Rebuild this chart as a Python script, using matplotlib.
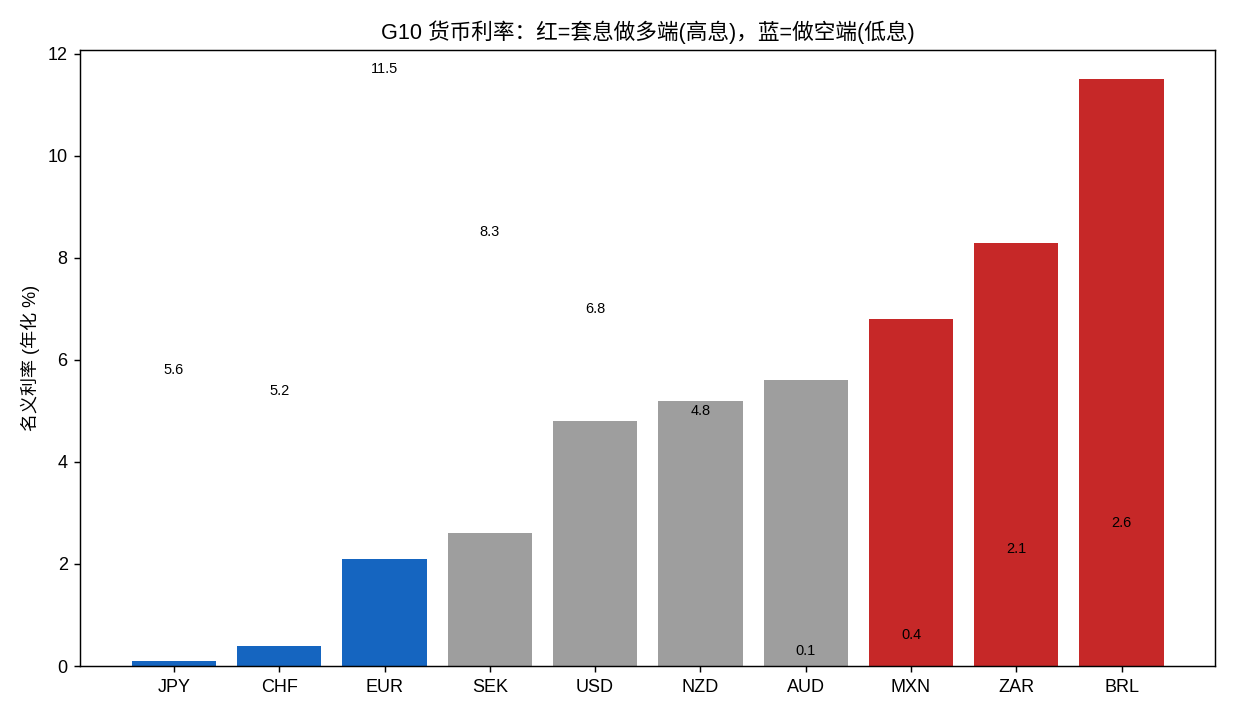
import matplotlib
matplotlib.use('Agg')
import matplotlib.pyplot as plt
import numpy as np

plt.rcParams['font.family'] = ['Liberation Sans', 'Noto Sans CJK SC', 'DejaVu Sans']

# original (unsorted) data
currencies = ['AUD', 'NZD', 'BRL', 'ZAR', 'MXN', 'USD', 'JPY', 'CHF', 'EUR', 'SEK']
rates = [5.6, 5.2, 11.5, 8.3, 6.8, 4.8, 0.1, 0.4, 2.1, 2.6]
long_side = ['BRL', 'ZAR', 'MXN']
short_side = ['JPY', 'CHF', 'EUR']

# bars are drawn sorted by rate
order = np.argsort(rates)
sorted_ccy = [currencies[i] for i in order]
sorted_rates = [rates[i] for i in order]

colors = []
for c in sorted_ccy:
    if c in long_side:
        colors.append('#C62828')
    elif c in short_side:
        colors.append('#1565C0')
    else:
        colors.append('#9E9E9E')

fig, ax = plt.subplots(figsize=(9.5, 5.5), dpi=130)
x = np.arange(len(sorted_ccy))
ax.bar(x, sorted_rates, color=colors, width=0.8)

# value labels (taken from the unsorted list, as in the original)
for i, v in enumerate(rates):
    ax.text(i, v + 0.2, f'{v}', ha='center', va='center', fontsize=8)

ax.set_xticks(x)
ax.set_xticklabels(sorted_ccy)
ax.set_ylabel('名义利率 (年化 %)')
ax.set_title('G10 货币利率：红=套息做多端(高息)，蓝=做空端(低息)', fontsize=12)

fig.subplots_adjust(left=0.065, right=0.984, top=0.93, bottom=0.0685)
fig.savefig('out.png', dpi=130)
